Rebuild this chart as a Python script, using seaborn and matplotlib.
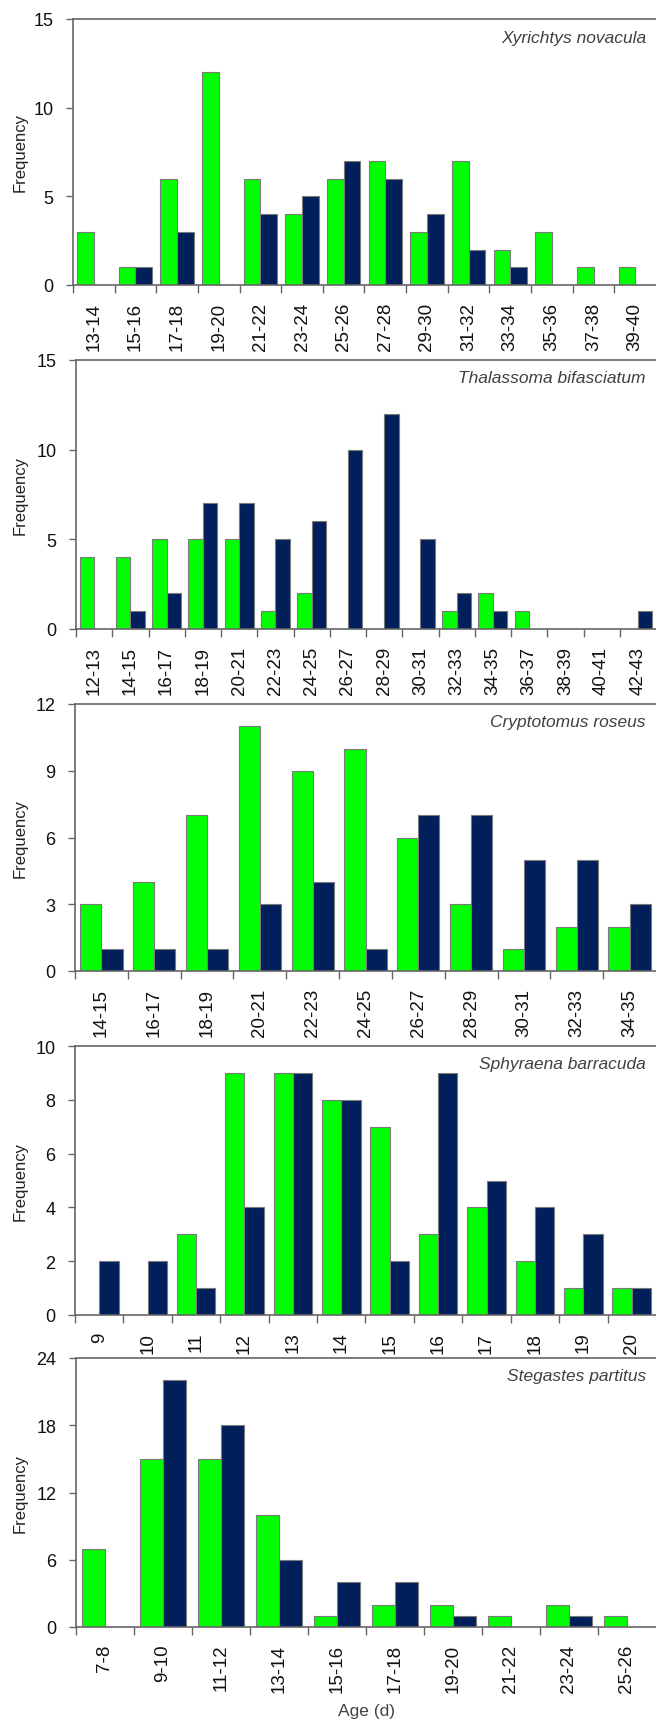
import matplotlib
matplotlib.use("Agg")
import matplotlib.pyplot as plt
import numpy as np
import pandas as pd
import seaborn as sns
from matplotlib.ticker import FixedLocator, NullFormatter

sns.set_theme(style="ticks")
plt.rcParams["font.family"] = ["Liberation Sans", "DejaVu Sans"]

# ---- data: age-frequency distributions, two samples per species ----
xyr_bins = ["13-14", "15-16", "17-18", "19-20", "21-22", "23-24", "25-26",
            "27-28", "29-30", "31-32", "33-34", "35-36", "37-38", "39-40"]
xyr_green = [3, 1, 6, 12, 6, 4, 6, 7, 3, 7, 2, 3, 1, 1]
xyr_navy = [0, 1, 3, 0, 4, 5, 7, 6, 4, 2, 1, 0, 0, 0]

tha_bins = ["12-13", "14-15", "16-17", "18-19", "20-21", "22-23", "24-25", "26-27",
            "28-29", "30-31", "32-33", "34-35", "36-37", "38-39", "40-41", "42-43"]
tha_green = [4, 4, 5, 5, 5, 1, 2, 0, 0, 0, 1, 2, 1, 0, 0, 0]
tha_navy = [0, 1, 2, 7, 7, 5, 6, 10, 12, 5, 2, 1, 0, 0, 0, 1]

cry_bins = ["14-15", "16-17", "18-19", "20-21", "22-23", "24-25",
            "26-27", "28-29", "30-31", "32-33", "34-35"]
cry_green = [3, 4, 7, 11, 9, 10, 6, 3, 1, 2, 2]
cry_navy = [1, 1, 1, 3, 4, 1, 7, 7, 5, 5, 3]

sph_bins = ["9", "10", "11", "12", "13", "14", "15", "16", "17", "18", "19", "20"]
sph_green = [0, 0, 3, 9, 9, 8, 7, 3, 4, 2, 1, 1]
sph_navy = [2, 2, 1, 4, 9, 8, 2, 9, 5, 4, 3, 1]

ste_bins = ["7-8", "9-10", "11-12", "13-14", "15-16", "17-18",
            "19-20", "21-22", "23-24", "25-26"]
ste_green = [7, 15, 15, 10, 1, 2, 2, 1, 2, 1]
ste_navy = [0, 22, 18, 6, 4, 4, 1, 0, 1, 0]

species = ["Xyrichtys novacula", "Thalassoma bifasciatum", "Cryptotomus roseus",
           "Sphyraena barracuda", "Stegastes partitus"]
y_ticks = [[0, 5, 10, 15], [0, 5, 10, 15], [0, 3, 6, 9, 12],
           [0, 2, 4, 6, 8, 10], [0, 6, 12, 18, 24]]

panels = [
    (xyr_bins, xyr_green, xyr_navy),
    (tha_bins, tha_green, tha_navy),
    (cry_bins, cry_green, cry_navy),
    (sph_bins, sph_green, sph_navy),
    (ste_bins, ste_green, ste_navy),
]

GREEN = "#00FF00"
NAVY = "#001F5B"
EDGE = "#7a7a7a"
AXIS = "#666666"

W, H = 656, 1724
fig = plt.figure(figsize=(W / 100, H / 100), dpi=100)

# axes boxes in pixels: left, top, bottom (right edge runs to the figure edge)
boxes = [(73, 20, 286), (76, 361, 630), (75, 705, 972), (75, 1047, 1316), (76, 1359, 1628)]

for i, ((bins, g, b), (left, top, bottom)) in enumerate(zip(panels, boxes)):
    n = len(bins)
    ax = fig.add_axes([left / W, 1 - bottom / H, (W - left) / W, (bottom - top) / H])
    df = pd.DataFrame({
        "bin": list(bins) * 2,
        "sample": ["A"] * n + ["B"] * n,
        "freq": list(g) + list(b),
    })
    sns.barplot(data=df, x="bin", y="freq", hue="sample", order=bins,
                hue_order=["A", "B"], palette=[GREEN, NAVY], saturation=1,
                width=0.8, gap=0, edgecolor=EDGE, linewidth=0.8,
                legend=False, ax=ax, errorbar=None)

    ax.set_xlim(-0.5, n - 0.5)
    ax.set_ylim(0, y_ticks[i][-1])
    ax.set_yticks(y_ticks[i])
    ax.tick_params(axis="y", direction="out", length=5, width=1, color=AXIS,
                   labelsize=13, labelcolor="#111111", pad=9)

    # category labels at centres, tick marks on the category boundaries
    ax.set_xticks(np.arange(n))
    ax.set_xticklabels(bins, rotation=90)
    ax.tick_params(axis="x", which="major", length=0, labelsize=13.5,
                   labelcolor="#111111", pad=12)
    ax.xaxis.set_minor_locator(FixedLocator(np.arange(n) - 0.5))
    ax.xaxis.set_minor_formatter(NullFormatter())
    ax.tick_params(axis="x", which="minor", direction="out", length=6, width=1, color=AXIS)

    for side in ["left", "bottom", "top"]:
        ax.spines[side].set_visible(True)
        ax.spines[side].set_color(AXIS)
        ax.spines[side].set_linewidth(1.2)
    ax.spines["right"].set_visible(False)

    ax.set_xlabel("")
    ax.set_ylabel("Frequency", fontsize=12, color="#222222")
    ax.yaxis.set_label_coords(-(left - 28) / (W - left), 0.5)

    ax.text((646 - left) / (W - left), 1 - 18 / (bottom - top), species[i],
            transform=ax.transAxes, ha="right", va="center",
            fontsize=12.5, style="italic", color="#404040")

    if i == len(panels) - 1:
        ax.set_xlabel("Age (d)", fontsize=12.5, color="#444444", labelpad=8)

fig.savefig("out.png", dpi=100)
